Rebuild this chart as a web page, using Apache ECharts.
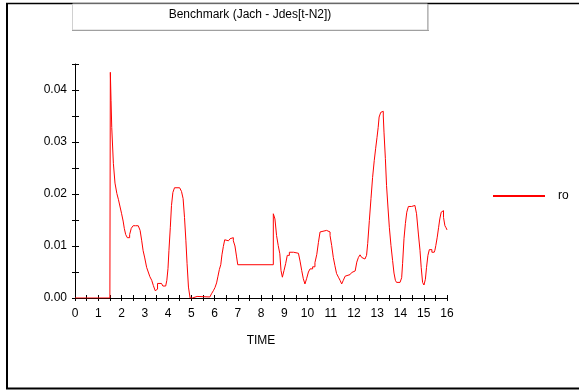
<!DOCTYPE html>
<html>
<head>
<meta charset="utf-8">
<script src="https://cdn.jsdelivr.net/npm/echarts@6/dist/echarts.min.js"></script>
<style>
  html, body { margin: 0; padding: 0; background: #fff; }
  #chart { width: 579px; height: 390px; }
</style>
</head>
<body>
<div id="chart"></div>
<script>
  // (stepped simulation output)
  var time = [0, 1.5, 1.52, 1.55, 1.58, 1.65, 1.72, 1.80, 1.87, 1.94, 2.00, 2.07, 2.12, 2.18, 2.25, 2.35, 2.42, 2.50, 2.60, 2.72,
    2.80, 2.87, 2.93, 3.00, 3.08, 3.15, 3.22, 3.30, 3.37, 3.45, 3.51, 3.55, 3.72, 3.78, 3.90, 3.95, 4.00, 4.04, 4.10, 4.15,
    4.21, 4.28, 4.50, 4.58, 4.65, 4.71, 4.77, 4.82, 4.88, 4.95, 5.05, 5.25, 5.30, 5.80, 5.87, 5.95, 6.02, 6.09, 6.15, 6.21,
    6.27, 6.32, 6.38, 6.44, 6.50, 6.60, 6.67, 6.74, 6.81, 6.88, 6.95, 7.00, 8.53, 8.60, 8.67, 8.74, 8.81, 8.86, 8.92, 8.99,
    9.06, 9.13, 9.22, 9.40, 9.47, 9.61, 9.68, 9.75, 9.82, 9.89, 9.96, 10.04, 10.11, 10.22, 10.32, 10.40, 10.47, 10.54, 10.61, 10.82,
    10.90, 10.97, 11.04, 11.11, 11.18, 11.25, 11.33, 11.40, 11.47, 11.54, 11.62, 11.69, 11.83, 11.90, 11.97, 12.05, 12.12, 12.19, 12.26, 12.33,
    12.40, 12.47, 12.54, 12.59, 12.66, 12.73, 12.80, 12.87, 12.93, 12.99, 13.04, 13.08, 13.15, 13.22, 13.26, 13.29, 13.35, 13.40, 13.46, 13.52,
    13.59, 13.66, 13.72, 13.78, 13.83, 13.98, 14.05, 14.09, 14.15, 14.21, 14.27, 14.34, 14.48, 14.62, 14.69, 14.77, 14.84, 14.89, 14.95, 15.01,
    15.07, 15.12, 15.18, 15.24, 15.30, 15.35, 15.45, 15.48, 15.52, 15.58, 15.64, 15.69, 15.75, 15.80, 15.85, 15.91, 15.96, 16.00];
  var ro = [0, 0, 0.0434, 0.038, 0.0328, 0.0259, 0.0221, 0.0201, 0.0189, 0.0175, 0.0163, 0.0148, 0.0134, 0.0122, 0.0116, 0.0122, 0.0134, 0.0139, 0.0139, 0.0139,
    0.0130, 0.0110, 0.0091, 0.0077, 0.0059, 0.0050, 0.0041, 0.0034, 0.0024, 0.0014, 0.0017, 0.0028, 0.0028, 0.0023, 0.0023, 0.0034, 0.0057, 0.0091, 0.0136, 0.0178,
    0.0203, 0.0212, 0.0210, 0.0205, 0.0191, 0.0155, 0.0110, 0.0066, 0.0021, 0.0000, 0.0003, 0.0005, 0.0002, 0.0002, 0.0008, 0.0014, 0.0020, 0.0029, 0.0042, 0.0055,
    0.0064, 0.0083, 0.0099, 0.0112, 0.0110, 0.0110, 0.0114, 0.0116, 0.0110, 0.0100, 0.0079, 0.0064, 0.0162, 0.0152, 0.0120, 0.0101, 0.0085, 0.0053, 0.0040, 0.0053,
    0.0066, 0.0082, 0.0088, 0.0088, 0.0086, 0.0084, 0.0071, 0.0053, 0.0037, 0.0027, 0.0037, 0.0050, 0.0056, 0.0060, 0.0068, 0.0084, 0.0107, 0.0127, 0.0130, 0.0130,
    0.0127, 0.0120, 0.0101, 0.0078, 0.0062, 0.0047, 0.0040, 0.0034, 0.0027, 0.0034, 0.0042, 0.0045, 0.0047, 0.0049, 0.0052, 0.0054, 0.0069, 0.0078, 0.0083, 0.0078,
    0.0075, 0.0073, 0.0082, 0.0105, 0.0149, 0.0191, 0.0232, 0.0264, 0.0287, 0.0309, 0.0328, 0.0348, 0.0357, 0.0359, 0.0350, 0.0319, 0.0268, 0.0216, 0.0175, 0.0136,
    0.0101, 0.0072, 0.0048, 0.0034, 0.0030, 0.0030, 0.0039, 0.0066, 0.0114, 0.0143, 0.0165, 0.0176, 0.0178, 0.0180, 0.0162, 0.0123, 0.0091, 0.0059, 0.0030, 0.0025,
    0.0036, 0.0059, 0.0082, 0.0093, 0.0093, 0.0088, 0.0088, 0.0092, 0.0101, 0.0117, 0.0136, 0.0152, 0.0165, 0.0168, 0.0155, 0.0139, 0.0135, 0.0131];
  var yTicks = [0, 0.01, 0.02, 0.03, 0.04];
  var titleText = 'Benchmark (Jach - Jdes[t-N2])';

  var font = 'Liberation Sans, Arial, sans-serif';
  var myChart = echarts.init(document.getElementById('chart'), null, { renderer: 'canvas' });

  var points = time.map(function (t, i) { return [t, ro[i]]; });

  var xLabel = function (v) {
    return Math.abs(v - Math.round(v)) < 1e-6 ? String(Math.round(v)) : '';
  };
  var yLabel = function (v) {
    for (var i = 0; i < yTicks.length; i++) {
      if (Math.abs(v - yTicks[i]) < 1e-6) return yTicks[i].toFixed(2);
    }
    return '';
  };

  var option = {
    animation: false,
    grid: { left: 75, right: 132, top: 64, bottom: 92 },
    legend: {
      data: ['ro'],
      left: 488, top: 185,
      itemWidth: 52, itemHeight: 14, itemGap: 0,
      icon: 'path://M0,6 L52,6 L52,8 L0,8 Z',
      textStyle: { fontFamily: font, fontSize: 12, color: '#000', padding: [0, 0, 0, 8] }
    },
    graphic: [
      { type: 'line', shape: { x1: 7, y1: 3, x2: 7, y2: 389 }, style: { stroke: '#000', lineWidth: 2 } },
      { type: 'line', shape: { x1: 6, y1: 3.5, x2: 579, y2: 3.5 }, style: { stroke: '#000', lineWidth: 1.5 } },
      { type: 'line', shape: { x1: 6, y1: 388.5, x2: 579, y2: 388.5 }, style: { stroke: '#000', lineWidth: 2 } },
      { type: 'rect', shape: { x: 72.5, y: 4, width: 355, height: 26 }, style: { fill: '#fff', stroke: '#d0d0d0', lineWidth: 1 } },
      { type: 'line', shape: { x1: 428, y1: 4, x2: 428, y2: 31 }, style: { stroke: '#a0a0a0', lineWidth: 1 } },
      { type: 'line', shape: { x1: 72, y1: 30.5, x2: 429, y2: 30.5 }, style: { stroke: '#a0a0a0', lineWidth: 1 } },
      { type: 'text', x: 250, y: 15, style: { text: titleText, fontFamily: font, fontSize: 12, fill: '#000', align: 'center', verticalAlign: 'middle' } }
    ],
    xAxis: [{
      type: 'value', min: 0, max: 16, interval: 0.5,
      name: 'TIME', nameLocation: 'middle', nameGap: 37,
      nameTextStyle: { fontFamily: font, fontSize: 12, color: '#000' },
      axisLine: { onZero: false, lineStyle: { color: '#000', width: 1 } },
      axisTick: { length: 3, lineStyle: { color: '#000' } },
      axisLabel: { formatter: xLabel, fontFamily: font, fontSize: 12, color: '#000', margin: 10, showMinLabel: true, showMaxLabel: true },
      splitLine: { show: false }
    }, {
      type: 'value', min: 0, max: 16, interval: 0.5, position: 'bottom', offset: 0,
      axisLine: { show: false },
      axisTick: { inside: true, length: 3, lineStyle: { color: '#000' } },
      axisLabel: { show: false },
      splitLine: { show: false }
    }],
    yAxis: [{
      type: 'value', min: 0, max: 0.045, interval: 0.005,
      axisLine: { show: true, onZero: false, lineStyle: { color: '#000', width: 1 } },
      axisTick: { show: true, length: 3, lineStyle: { color: '#000' } },
      axisLabel: { formatter: yLabel, fontFamily: font, fontSize: 12, color: '#000', margin: 8 },
      splitLine: { show: false }
    }, {
      type: 'value', min: 0, max: 0.045, interval: 0.005, position: 'left', offset: 0,
      axisLine: { show: false },
      axisTick: { show: true, inside: true, length: 4, lineStyle: { color: '#000' } },
      axisLabel: { show: false },
      splitLine: { show: false }
    }],
    series: [{
      name: 'ro',
      type: 'line',
      step: 'end',
      data: points,
      showSymbol: false,
      lineStyle: { color: '#ff0000', width: 1 },
      itemStyle: { color: '#ff0000' }
    }]
  };

  option && myChart.setOption(option);
</script>
</body>
</html>
